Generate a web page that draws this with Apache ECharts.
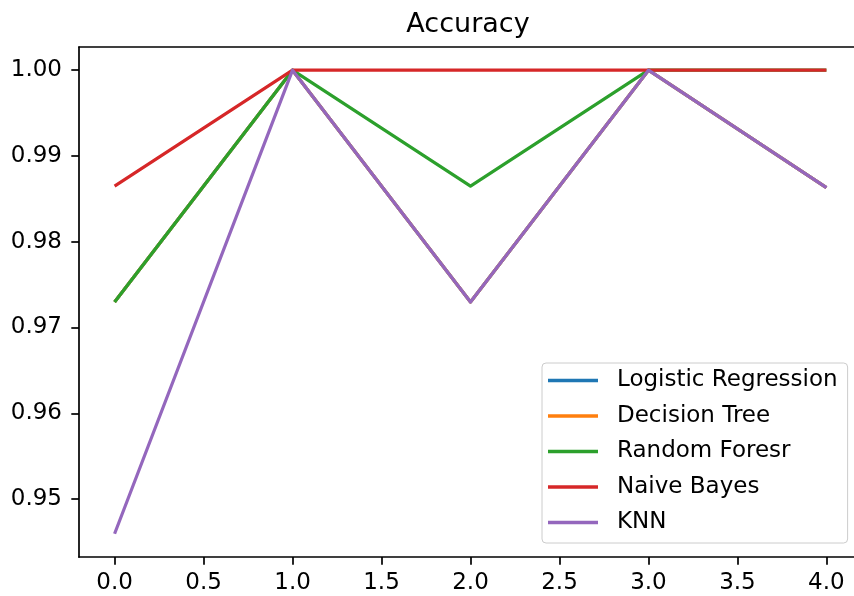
<!DOCTYPE html>
<html>
<head>
<meta charset="utf-8">
<title>Accuracy</title>
<script src="https://cdn.jsdelivr.net/npm/echarts@6/dist/echarts.min.js"></script>
<style>
  html, body { margin: 0; padding: 0; background: #fff; }
  #chart { width: 854px; height: 596px; }
</style>
</head>
<body>
<div id="chart"></div>
<script>
// fold index on x, accuracy on y
const folds = [0, 1, 2, 3, 4];
const logisticRegression = [0.97297, 1.0, 0.97297, 1.0, 0.98630];
const decisionTree = [0.97297, 1.0, 0.97297, 1.0, 0.98630];
const randomForest = [0.97297, 1.0, 0.98649, 1.0, 1.0];
const naiveBayes = [0.98649, 1.0, 1.0, 1.0, 1.0];
const knn = [0.94595, 1.0, 0.97297, 1.0, 0.98630];

const seriesNames = ['Logistic Regression', 'Decision Tree', 'Random Foresr', 'Naive Bayes', 'KNN'];
const seriesValues = [logisticRegression, decisionTree, randomForest, naiveBayes, knn];
const colorList = ['#1f77b4', '#ff7f0e', '#2ca02c', '#d62728', '#9467bd'];

const xTicks = [0, 0.5, 1, 1.5, 2, 2.5, 3, 3.5, 4];
const yTicks = [0.95, 0.96, 0.97, 0.98, 0.99, 1.0];

const font = 'DejaVu Sans';
const spine = { color: '#000', width: 1.7 };
const chart = echarts.init(document.getElementById('chart'), null, { renderer: 'canvas' });

const series = seriesNames.map((name, i) => ({
  name: name,
  type: 'line',
  xAxisIndex: 0,
  data: folds.map((x, j) => [x, seriesValues[i][j]]),
  showSymbol: false,
  symbol: 'none',
  silent: true,
  lineStyle: { width: 3.2, color: colorList[i], join: 'round' },
  itemStyle: { color: colorList[i] }
}));

const option = {
  animation: false,
  backgroundColor: '#fff',
  title: {
    text: 'Accuracy',
    left: 468,
    top: 11,
    textAlign: 'center',
    padding: 0,
    textStyle: { fontFamily: font, fontSize: 27, fontWeight: 'normal', color: '#000' }
  },
  legend: {
    orient: 'vertical',
    left: 542,
    top: 363,
    padding: [6, 10, 9, 6],
    itemGap: 12.5,
    itemWidth: 50,
    itemHeight: 3.3,
    icon: 'rect',
    backgroundColor: 'rgba(255,255,255,0.8)',
    borderColor: '#cccccc',
    borderWidth: 1,
    borderRadius: 4,
    data: seriesNames,
    textStyle: {
      fontFamily: font,
      fontSize: 23,
      lineHeight: 23,
      color: '#000',
      padding: [0, 0, 0, 14]
    },
    z: 10
  },
  grid: {
    left: 79,
    top: 47,
    width: 783,
    height: 510,
    show: false,
    containLabel: false,
    outerBoundsMode: 'none'
  },
  xAxis: [{
    type: 'value',
    position: 'bottom',
    min: -0.2,
    max: 4.2,
    axisLine: { show: true, onZero: false, lineStyle: spine },
    splitLine: { show: false },
    axisTick: {
      show: true,
      customValues: xTicks,
      length: 7.7,
      lineStyle: spine
    },
    axisLabel: {
      customValues: xTicks,
      margin: 15,
      fontFamily: font,
      fontSize: 23,
      color: '#000',
      formatter: v => v.toFixed(1)
    }
  }, {
    // top spine only
    type: 'value',
    position: 'top',
    min: -0.2,
    max: 4.2,
    axisLine: { show: true, onZero: false, lineStyle: spine },
    splitLine: { show: false },
    axisTick: { show: false },
    axisLabel: { show: false }
  }],
  yAxis: {
    type: 'value',
    min: 0.943243,
    max: 1.0027027,
    axisLine: { show: true, onZero: false, lineStyle: spine },
    splitLine: { show: false },
    axisTick: {
      show: true,
      customValues: yTicks,
      length: 7.7,
      lineStyle: spine
    },
    axisLabel: {
      customValues: yTicks,
      margin: 17,
      fontFamily: font,
      fontSize: 23,
      color: '#000',
      formatter: v => v.toFixed(2)
    }
  },
  series: series
};

chart.setOption(option);
window.addEventListener('resize', () => chart.resize());
</script>
</body>
</html>
